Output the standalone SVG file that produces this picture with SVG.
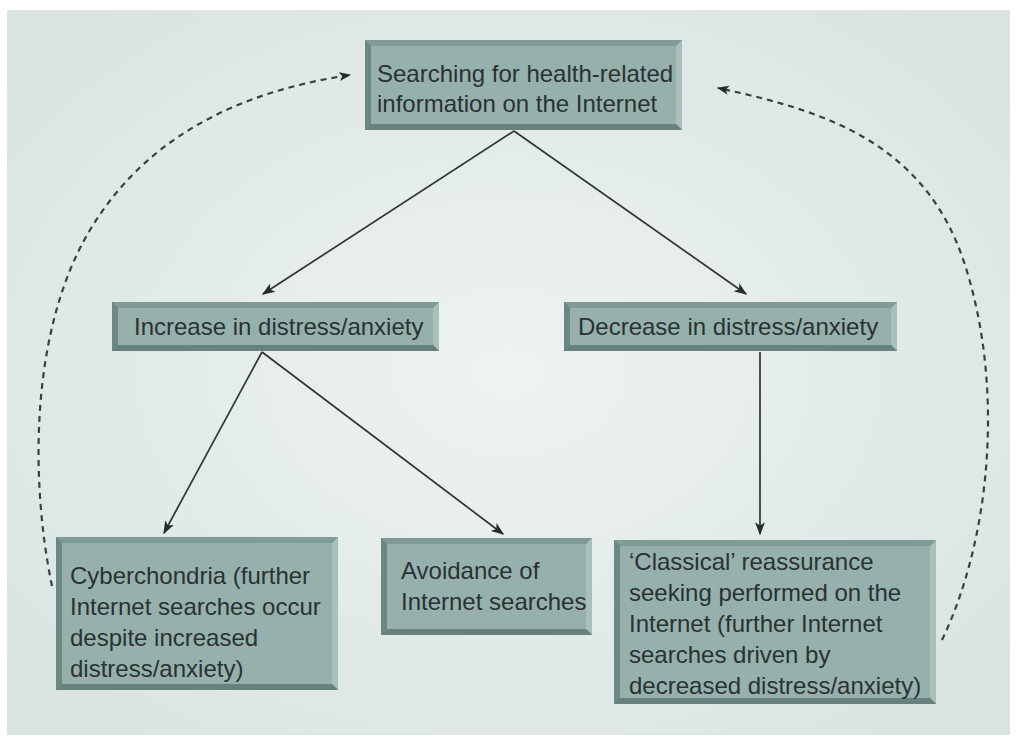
<svg xmlns="http://www.w3.org/2000/svg" width="1016" height="743" viewBox="0 0 1016 743">
<defs>
<radialGradient id="bg" cx="50%" cy="50%" r="65%">
<stop offset="0" stop-color="#eef3f2"/>
<stop offset="1" stop-color="#d9e4e1"/>
</radialGradient>
<marker id="ah" viewBox="0 0 10 10" refX="9" refY="5" markerWidth="13" markerHeight="13" markerUnits="userSpaceOnUse" orient="auto">
<path d="M0,1.2 L10,5 L0,8.8 L2.5,5 Z" fill="#262b2b"/>
</marker>
<marker id="ahd" viewBox="0 0 10 10" refX="9" refY="5" markerWidth="12" markerHeight="12" markerUnits="userSpaceOnUse" orient="auto">
<path d="M0,1.2 L10,5 L0,8.8 L2.5,5 Z" fill="#262b2b"/>
</marker>
</defs>
<style>
.outer{fill:#738f8a}
.face{fill:#96b1ac}
.bt{fill:#7f9b96}
.bl{fill:#6b8883}
.br{fill:#a8bfba}
.bb{fill:#67827d}
.t{font-family:"Liberation Sans",Arial,sans-serif;font-size:24px;fill:#2a3232}
.c{fill:none;stroke:#2f3535;stroke-width:1.7}
.d{fill:none;stroke:#3a4040;stroke-width:2.2;stroke-dasharray:6 5}
</style>
<rect width="1016" height="743" fill="#ffffff"/>
<rect x="7" y="10" width="1003" height="725" fill="url(#bg)"/>

<g id="connectors">
<line class="c" x1="514" y1="131" x2="263" y2="294" marker-end="url(#ah)"/>
<line class="c" x1="514" y1="131" x2="746" y2="294" marker-end="url(#ah)"/>
<line class="c" x1="262" y1="352" x2="164" y2="533" marker-end="url(#ah)"/>
<line class="c" x1="262" y1="352" x2="503" y2="534" marker-end="url(#ah)"/>
<line class="c" x1="760" y1="352" x2="760" y2="534" marker-end="url(#ah)"/>
<path class="d" d="M52,586 C30,480 30,330 90,230 S250,90 350,75" marker-end="url(#ahd)"/>
<path class="d" d="M942,640 C990,540 1005,390 965,265 S820,110 718,88" marker-end="url(#ahd)"/>
</g>

<g id="node-search">
<rect class="outer" x="365" y="40" width="317" height="90"/>
<polygon class="bt" points="365,40 682,40 676,46 371,46"/>
<polygon class="bl" points="365,40 371,46 371,124 365,130"/>
<polygon class="br" points="682,40 682,130 676,124 676,46"/>
<polygon class="bb" points="365,130 371,124 676,124 682,130"/>
<rect class="face" x="371" y="46" width="305" height="78"/>
<text class="t" x="377" y="82">Searching for health-related</text>
<text class="t" x="377" y="112">information on the Internet</text>
</g>

<g id="node-increase">
<rect class="outer" x="112" y="302" width="327" height="49"/>
<polygon class="bt" points="112,302 439,302 433,308 118,308"/>
<polygon class="bl" points="112,302 118,308 118,345 112,351"/>
<polygon class="br" points="439,302 439,351 433,345 433,308"/>
<polygon class="bb" points="112,351 118,345 433,345 439,351"/>
<rect class="face" x="118" y="308" width="315" height="37"/>
<text class="t" x="134" y="335">Increase in distress/anxiety</text>
</g>

<g id="node-decrease">
<rect class="outer" x="564" y="302" width="333" height="49"/>
<polygon class="bt" points="564,302 897,302 891,308 570,308"/>
<polygon class="bl" points="564,302 570,308 570,345 564,351"/>
<polygon class="br" points="897,302 897,351 891,345 891,308"/>
<polygon class="bb" points="564,351 570,345 891,345 897,351"/>
<rect class="face" x="570" y="308" width="321" height="37"/>
<text class="t" x="578" y="335">Decrease in distress/anxiety</text>
</g>

<g id="node-cyberchondria">
<rect class="outer" x="56" y="537" width="282" height="153"/>
<polygon class="bt" points="56,537 338,537 332,543 62,543"/>
<polygon class="bl" points="56,537 62,543 62,684 56,690"/>
<polygon class="br" points="338,537 338,690 332,684 332,543"/>
<polygon class="bb" points="56,690 62,684 332,684 338,690"/>
<rect class="face" x="62" y="543" width="270" height="141"/>
<text class="t" x="70" y="584">Cyberchondria (further</text>
<text class="t" x="70" y="615">Internet searches occur</text>
<text class="t" x="70" y="646">despite increased</text>
<text class="t" x="70" y="677">distress/anxiety)</text>
</g>

<g id="node-avoidance">
<rect class="outer" x="381" y="538" width="211" height="97"/>
<polygon class="bt" points="381,538 592,538 586,544 387,544"/>
<polygon class="bl" points="381,538 387,544 387,629 381,635"/>
<polygon class="br" points="592,538 592,635 586,629 586,544"/>
<polygon class="bb" points="381,635 387,629 586,629 592,635"/>
<rect class="face" x="387" y="544" width="199" height="85"/>
<text class="t" x="401" y="579">Avoidance of</text>
<text class="t" x="401" y="610">Internet searches</text>
</g>

<g id="node-classical">
<rect class="outer" x="614" y="540" width="322" height="164"/>
<polygon class="bt" points="614,540 936,540 930,546 620,546"/>
<polygon class="bl" points="614,540 620,546 620,698 614,704"/>
<polygon class="br" points="936,540 936,704 930,698 930,546"/>
<polygon class="bb" points="614,704 620,698 930,698 936,704"/>
<rect class="face" x="620" y="546" width="310" height="152"/>
<text class="t" x="629" y="570">‘Classical’ reassurance</text>
<text class="t" x="629" y="601">seeking performed on the</text>
<text class="t" x="629" y="632">Internet (further Internet</text>
<text class="t" x="629" y="663">searches driven by</text>
<text class="t" x="629" y="694">decreased distress/anxiety)</text>
</g>
</svg>
